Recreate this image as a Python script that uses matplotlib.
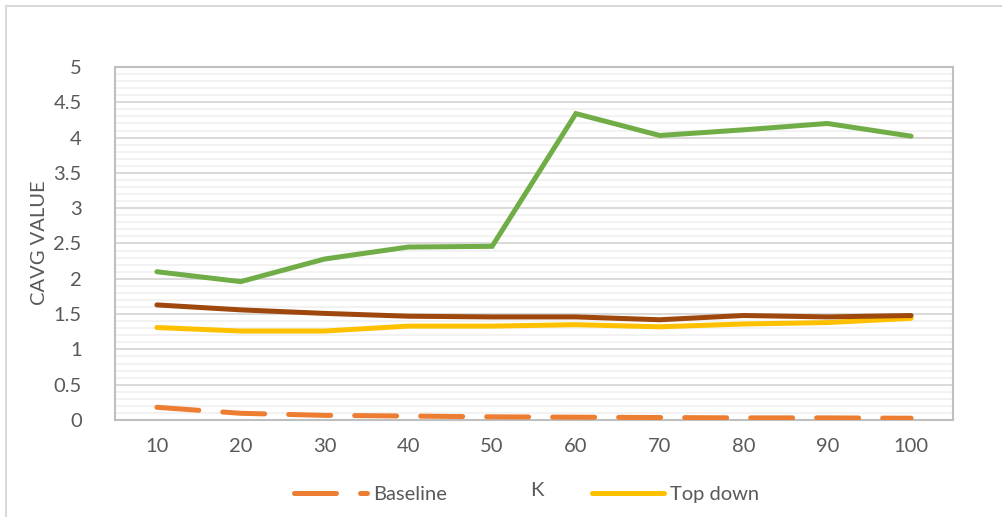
import matplotlib.pyplot as plt
from matplotlib.lines import Line2D
import numpy as np

plt.rcParams['font.family'] = ['Lato', 'DejaVu Sans']

# Valores de K y de CAVG por serie
k_valores = [10, 20, 30, 40, 50, 60, 70, 80, 90, 100]
baseline = [0.18, 0.095, 0.066, 0.056, 0.045, 0.04, 0.035, 0.03, 0.03, 0.025]
top_down = [1.31, 1.26, 1.26, 1.33, 1.33, 1.35, 1.32, 1.36, 1.38, 1.44]
serie_verde = [2.10, 1.96, 2.28, 2.45, 2.46, 4.34, 4.03, 4.11, 4.20, 4.02]
serie_marron = [1.63, 1.56, 1.51, 1.47, 1.46, 1.46, 1.42, 1.48, 1.46, 1.48]

gris_texto = '#595959'
lw = 3.6
fs = 14.5

fig = plt.figure(figsize=(10.03, 5.17), dpi=100)
W, H = 1003, 517
ax = fig.add_axes([115 / W, 1 - 420 / H, (953 - 115) / W, (420 - 67) / H])

x = np.arange(len(k_valores))
ax.plot(x, baseline, color='#ED7D31', lw=lw, dashes=(8.4, 4.8),
        dash_capstyle='round', solid_capstyle='round', zorder=3)
ax.plot(x, top_down, color='#FFC000', lw=lw, solid_capstyle='round',
        solid_joinstyle='round', zorder=3)
ax.plot(x, serie_verde, color='#70AD47', lw=lw, solid_capstyle='round',
        solid_joinstyle='miter', zorder=3)
ax.plot(x, serie_marron, color='#9E480E', lw=lw, solid_capstyle='round',
        solid_joinstyle='round', zorder=3)

ax.set_xlim(-0.5, len(k_valores) - 0.5)
ax.set_ylim(0, 5)
ax.set_xticks(x)
ax.set_xticklabels([str(k) for k in k_valores])
ax.set_yticks(np.arange(0, 5.01, 0.5))
ax.set_yticklabels(['0', '0.5', '1', '1.5', '2', '2.5', '3', '3.5', '4', '4.5', '5'])
ax.set_yticks(np.arange(0, 5.01, 0.1), minor=True)

ax.grid(axis='y', which='minor', color='#F2F2F2', lw=1.4, zorder=0)
ax.grid(axis='y', which='major', color='#D9D9D9', lw=1.4, zorder=1)
ax.tick_params(axis='both', which='both', length=0, labelsize=fs, labelcolor=gris_texto)
ax.tick_params(axis='x', pad=13)
ax.tick_params(axis='y', pad=24)
for lado in ax.spines.values():
    lado.set_color('#BFBFBF')
    lado.set_linewidth(1.5)

fig.text(40 / W, 1 - 243 / H, 'CAVG VALUE', rotation=90, ha='center', va='center',
         fontsize=fs, color=gris_texto)
fig.text(537 / W, 1 - 491 / H, 'K', ha='center', va='center', fontsize=fs, color=gris_texto)

# Leyenda inferior
manejadores = [
    Line2D([], [], color='#ED7D31', lw=lw, dashes=(8.4, 4.8), dash_capstyle='round'),
    Line2D([], [], color='#FFC000', lw=lw, solid_capstyle='round'),
]
fig.legend(manejadores, ['Baseline', 'Top down'], loc='center', ncol=2,
           bbox_to_anchor=(527 / W, 1 - 494 / H), frameon=False, fontsize=fs,
           labelcolor=gris_texto, handlelength=3.6, handletextpad=0.3,
           columnspacing=7.2)

# Marco exterior del gráfico
fig.add_artist(Line2D([6 / W, 1], [1 - 5.5 / H, 1 - 5.5 / H], color='#D9D9D9', lw=1.5))
fig.add_artist(Line2D([6 / W, 6 / W], [0, 1 - 5.5 / H], color='#D9D9D9', lw=1.5))

plt.savefig('out.png', dpi=100)
